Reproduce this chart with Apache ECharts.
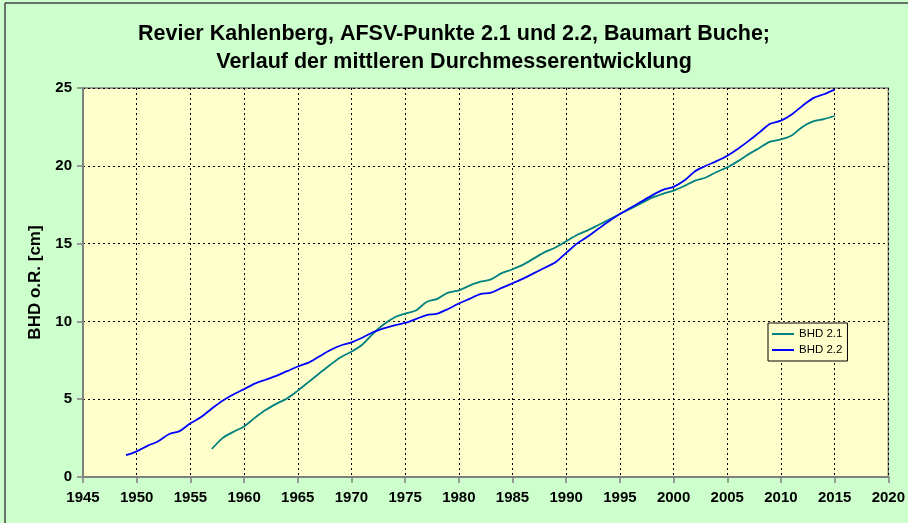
<!DOCTYPE html>
<html>
<head>
<meta charset="utf-8">
<script src="https://cdn.jsdelivr.net/npm/echarts@6/dist/echarts.min.js"></script>
<style>
  html, body { margin: 0; padding: 0; background: #CCFFCC; }
  #chart { width: 908px; height: 523px; }
</style>
</head>
<body>
<div id="chart"></div>
<script>
// Jahre und BHD-Werte (cm)
var years22 = [1949,1950,1951,1952,1953,1954,1955,1956,1957,1958,1959,1960,1961,1962,1963,1964,1965,1966,1967,1968,1969,
  1970,1971,1972,1973,1974,1975,1976,1977,1978,1979,1980,1981,1982,1983,1984,1985,1986,1987,1988,1989,
  1990,1991,1992,1993,1994,1995,1996,1997,1998,1999,2000,2001,2002,2003,2004,2005,2006,2007,2008,2009,
  2010,2011,2012,2013,2014,2015];
var bhd22 = [1.4,1.65,2.0,2.3,2.75,2.95,3.45,3.85,4.4,4.9,5.3,5.65,6.0,6.25,6.5,6.8,7.1,7.35,7.75,8.15,8.45,
  8.65,8.95,9.3,9.55,9.75,9.9,10.15,10.4,10.5,10.8,11.15,11.45,11.75,11.85,12.15,12.45,12.75,13.1,13.45,13.8,
  14.4,15.0,15.45,15.95,16.45,16.9,17.3,17.7,18.1,18.45,18.65,19.05,19.65,20.0,20.3,20.65,21.1,21.6,22.15,22.7,
  22.9,23.3,23.85,24.35,24.6,24.9];

var years21 = [1957,1958,1959,1960,1961,1962,1963,1964,1965,1966,1967,1968,1969,
  1970,1971,1972,1973,1974,1975,1976,1977,1978,1979,1980,1981,1982,1983,1984,1985,1986,1987,1988,1989,
  1990,1991,1992,1993,1994,1995,1996,1997,1998,1999,2000,2001,2002,2003,2004,2005,2006,2007,2008,2009,
  2010,2011,2012,2013,2014,2015];
var bhd21 = [1.8,2.5,2.9,3.25,3.8,4.3,4.7,5.05,5.55,6.1,6.65,7.2,7.7,
  8.05,8.5,9.2,9.8,10.25,10.5,10.7,11.25,11.45,11.85,12.0,12.3,12.55,12.7,13.1,13.35,13.65,14.05,14.45,14.75,
  15.15,15.55,15.85,16.2,16.55,16.9,17.25,17.6,17.95,18.2,18.4,18.7,19.05,19.25,19.6,19.9,20.3,20.75,21.15,21.55,
  21.7,21.95,22.5,22.85,23.0,23.2];

function pairs(xs, ys) {
  return xs.map(function (x, i) { return [x, ys[i]]; });
}

var chart = echarts.init(document.getElementById('chart'));
var font = '"Liberation Sans", Arial, sans-serif';

var option = {
  backgroundColor: '#CCFFCC',
  animation: false,
  textStyle: { fontFamily: font },
  title: {
    text: 'Revier Kahlenberg, AFSV-Punkte 2.1 und 2.2, Baumart Buche;\nVerlauf der mittleren Durchmesserentwicklung',
    left: 'center',
    top: 15,
    textStyle: { fontFamily: font, fontSize: 21.5, fontWeight: 'bold', color: '#000', lineHeight: 28 }
  },
  graphic: [
    { type: 'line', shape: { x1: 5, y1: 3, x2: 908, y2: 3 }, style: { stroke: '#444', lineWidth: 1.5 } },
    { type: 'line', shape: { x1: 5, y1: 3, x2: 5, y2: 523 }, style: { stroke: '#444', lineWidth: 1.5 } }
  ],
  legend: {
    orient: 'vertical',
    left: 768,
    top: 323,
    padding: [5, 5, 5, 4],
    itemGap: 4,
    itemWidth: 22,
    itemHeight: 2,
    icon: 'rect',
    backgroundColor: '#FFFFCC',
    borderColor: '#000',
    borderWidth: 1,
    textStyle: { fontFamily: font, fontSize: 11.5, color: '#000' },
    data: ['BHD 2.1', 'BHD 2.2']
  },
  grid: {
    left: 83,
    right: 17,
    top: 88,
    bottom: 46,
    show: true,
    backgroundColor: '#FFFFCC',
    borderColor: '#808080',
    borderWidth: 1.5
  },
  xAxis: {
    type: 'value',
    min: 1945,
    max: 2020,
    interval: 5,
    axisLine: { show: true, lineStyle: { color: '#808080', width: 2 } },
    axisTick: { show: true, length: 6, lineStyle: { color: '#808080', width: 1.5 } },
    axisLabel: {
      color: '#000', fontSize: 15, fontWeight: 'bold', margin: 13, fontFamily: font,
      formatter: function (v) { return String(v); }
    },
    splitLine: { show: true, lineStyle: { color: '#000', type: [2, 3], width: 1 } }
  },
  yAxis: {
    type: 'value',
    min: 0,
    max: 25,
    interval: 5,
    name: 'BHD o.R. [cm]',
    nameLocation: 'middle',
    nameGap: 39,
    nameTextStyle: { color: '#000', fontSize: 17, fontWeight: 'bold', fontFamily: font },
    axisLine: { show: true, lineStyle: { color: '#808080', width: 2 } },
    axisTick: { show: true, length: 6, lineStyle: { color: '#808080', width: 1.5 } },
    axisLabel: { color: '#000', fontSize: 15, fontWeight: 'bold', margin: 11, fontFamily: font },
    splitLine: { show: true, lineStyle: { color: '#000', type: [2, 3], width: 1 } }
  },
  series: [
    {
      name: 'BHD 2.1',
      type: 'line',
      data: pairs(years21, bhd21),
      symbol: 'none',
      smooth: 0.3,
      itemStyle: { color: '#008080' },
      lineStyle: { color: '#008080', width: 1.8 }
    },
    {
      name: 'BHD 2.2',
      type: 'line',
      data: pairs(years22, bhd22),
      symbol: 'none',
      smooth: 0.3,
      itemStyle: { color: '#0000FF' },
      lineStyle: { color: '#0000FF', width: 1.8 }
    }
  ]
};

chart.setOption(option);
</script>
</body>
</html>
